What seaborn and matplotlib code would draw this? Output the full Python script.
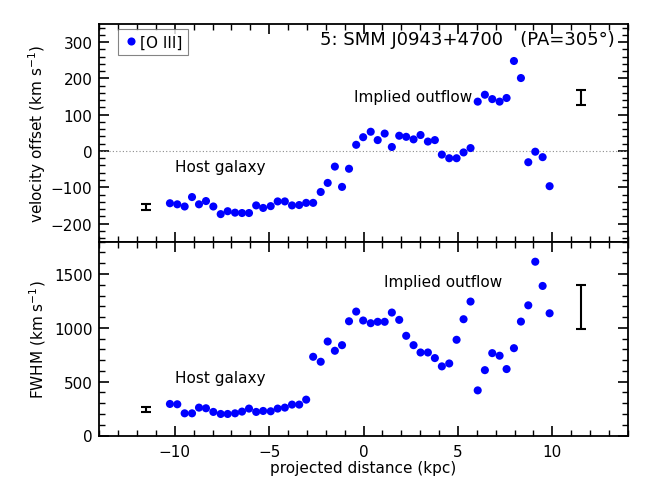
import numpy as np
import pandas as pd
import matplotlib
matplotlib.use("Agg")
import matplotlib.pyplot as plt
import seaborn as sns
from matplotlib.ticker import MultipleLocator

# ---- data ----
distance_kpc = [-10.26, -9.87, -9.48, -9.09, -8.72, -8.35, -7.96, -7.57, -7.20, -6.81,
                -6.44, -6.07, -5.69, -5.32, -4.92, -4.55, -4.17, -3.79, -3.41, -3.04,
                -2.67, -2.27, -1.90, -1.52, -1.14, -0.77, -0.39, -0.02, 0.38, 0.75,
                1.12, 1.50, 1.89, 2.26, 2.65, 3.02, 3.41, 3.78, 4.15, 4.54,
                4.93, 5.30, 5.67, 6.05, 6.43, 6.82, 7.21, 7.58, 7.97, 8.34,
                8.73, 9.10, 9.49, 9.86]
velocity_offset = [-144, -147, -153, -127, -147, -138, -153, -174, -166, -170,
                   -171, -171, -150, -157, -152, -139, -139, -150, -149, -143,
                   -143, -113, -88, -43, -99, -49, 17, 38, 53, 30,
                   48, 11, 42, 39, 32, 44, 26, 30, -10, -20,
                   -20, -4, 8, 136, 155, 143, 136, 146, 248, 201,
                   -31, -2, -17, -97]
fwhm = [293, 290, 206, 206, 259, 253, 219, 200, 200, 206,
        222, 250, 219, 228, 225, 250, 259, 287, 287, 333,
        731, 685, 873, 787, 839, 1061, 1151, 1068, 1043, 1056,
        1056, 1142, 1074, 926, 839, 771, 771, 719, 642, 669,
        889, 1080, 1244, 419, 607, 765, 741, 617, 811, 1058,
        1209, 1614, 1389, 1135]

# representative error bars (x position, value, half-size)
vel_err_x = [-11.55, 11.5]
vel_err_y = [-154, 148]
vel_err_size = [9, 21]
fwhm_err_x = [-11.55, 11.5]
fwhm_err_y = [242, 1197]
fwhm_err_size = [23, 204]

title_text = "5: SMM J0943+4700   (PA=305°)"
legend_label = "[O III]"

df = pd.DataFrame({"distance": distance_kpc, "velocity": velocity_offset, "fwhm": fwhm,
                   "line": legend_label})

sns.set_style("ticks")
plt.rcParams['font.family'] = ['DejaVu Sans']
plt.rcParams['font.size'] = 11
plt.rcParams['text.color'] = 'black'
plt.rcParams['axes.labelcolor'] = 'black'
plt.rcParams['xtick.color'] = 'black'
plt.rcParams['ytick.color'] = 'black'

fig = plt.figure(figsize=(6.58, 4.85), dpi=100)
left, right = 0.151, 0.954
ax1 = fig.add_axes([left, 0.4996, right - left, 0.9485 - 0.4996])
ax2 = fig.add_axes([left, 0.100, right - left, 0.4996 - 0.100], sharex=ax1)

blue = "#0000ff"

sns.scatterplot(data=df, x="distance", y="velocity", hue="line", palette=[blue],
                s=34, edgecolor="none", ax=ax1, zorder=3)
sns.scatterplot(data=df, x="distance", y="fwhm", s=34, color=blue,
                edgecolor="none", ax=ax2, zorder=3, legend=False)

ax1.axhline(0, color="0.55", lw=0.8, ls=(0, (1, 2)), zorder=1)

ax1.errorbar(vel_err_x, vel_err_y, yerr=vel_err_size, fmt="none", ecolor="black",
             elinewidth=1.5, capsize=3.5, capthick=1.5)
ax2.errorbar(fwhm_err_x, fwhm_err_y, yerr=fwhm_err_size, fmt="none", ecolor="black",
             elinewidth=1.5, capsize=3.5, capthick=1.5)

ax1.set_xlim(-14, 14)
ax1.set_ylim(-250, 350)
ax2.set_ylim(0, 1800)

for ax in (ax1, ax2):
    ax.xaxis.set_major_locator(MultipleLocator(5))
    ax.xaxis.set_minor_locator(MultipleLocator(1))
    ax.tick_params(which="both", direction="in", top=True, right=True,
                   colors="black", labelcolor="black", labelsize=11)
    ax.tick_params(which="major", length=7, width=1.2)
    ax.tick_params(which="minor", length=4, width=1.0)
    ax.tick_params(axis="y", pad=5)
    ax.tick_params(axis="x", pad=6)
    for sp in ax.spines.values():
        sp.set_visible(True)
        sp.set_linewidth(1.3)
        sp.set_color("black")

ax1.yaxis.set_major_locator(MultipleLocator(100))
ax1.yaxis.set_minor_locator(MultipleLocator(20))
ax2.yaxis.set_major_locator(MultipleLocator(500))
ax2.yaxis.set_minor_locator(MultipleLocator(100))
ax1.tick_params(axis="x", labelbottom=False)

ax1.set_xlabel("")
ax1.set_ylabel("velocity offset (km s$^{-1}$)", fontsize=11, color="black")
ax2.set_ylabel("FWHM (km s$^{-1}$)", fontsize=11, color="black")
ax2.set_xlabel("projected distance (kpc)", fontsize=11, labelpad=1, color="black")
ax1.yaxis.set_label_coords(-0.097, 0.5)
ax2.yaxis.set_label_coords(-0.097, 0.5)

ax1.text(0.975, 0.93, title_text, transform=ax1.transAxes, ha="right", va="center",
         fontsize=13, color="black")
ax1.text(-10.0, -42, "Host galaxy", ha="left", va="center", fontsize=11, color="black")
ax1.text(-0.5, 150, "Implied outflow", ha="left", va="center", fontsize=11, color="black")
ax2.text(-10.0, 537, "Host galaxy", ha="left", va="center", fontsize=11, color="black")
ax2.text(1.08, 1431, "Implied outflow", ha="left", va="center", fontsize=11, color="black")

leg = ax1.legend(loc="upper left", bbox_to_anchor=(0.035, 0.977), frameon=True,
                 fancybox=False, handletextpad=0.1, borderpad=0.35, borderaxespad=0,
                 handlelength=1.0, fontsize=11, markerscale=1.0, labelcolor="black")
leg.get_frame().set_edgecolor("0.4")
leg.get_frame().set_linewidth(0.8)

fig.savefig("out.png", dpi=100)
